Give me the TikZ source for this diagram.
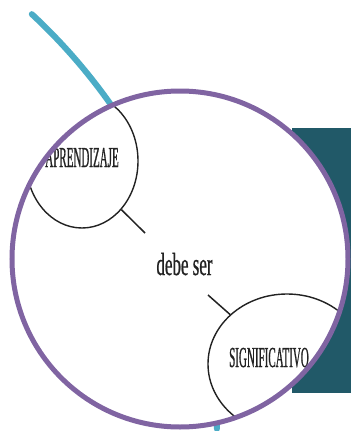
\documentclass[tikz,border=0pt]{standalone}
\usepackage{fontspec}
\usepackage{tikz}
\usetikzlibrary{shapes}
\usetikzlibrary{shapes.geometric}
\newfontfamily\capsfont[FakeStretch=0.38, FakeBold=0.6]{Liberation Serif}
\newfontfamily\wordfont[FakeStretch=0.53, FakeBold=0.6]{Liberation Serif}
\pgfdeclarelayer{bglayer}
\pgfdeclarelayer{edgelayer}
\pgfdeclarelayer{nodelayer}
\pgfsetlayers{bglayer,edgelayer,nodelayer,main}
\definecolor{aqua}{RGB}{75,172,198}
\definecolor{petrol}{RGB}{33,89,104}
\definecolor{lilac}{RGB}{128,100,162}
\definecolor{ink}{RGB}{34,34,34}
\tikzstyle{none}=[inner sep=0pt]
\tikzstyle{bubble}=[shape=ellipse, draw=ink, line width=1.4, inner sep=0pt]
\tikzstyle{link}=[draw=ink, line width=1.5]
\tikzstyle{caps}=[inner sep=0pt, anchor=base, text=ink, font=\capsfont\fontsize{29}{29}\selectfont]
\tikzstyle{word}=[inner sep=0pt, anchor=base, text=ink, font=\wordfont\fontsize{32}{32}\selectfont]

\begin{document}
\begin{tikzpicture}[x=1pt, y=-1pt]
	\useasboundingbox (0, 0) rectangle (351, 431);
	\begin{pgfonlayer}{bglayer}
		\coordinate (0) at (-363, 439);
		\coordinate (1) at (292, 128);
		\coordinate (2) at (351, 393);
		\coordinate (3) at (180, 259);
		\draw [line width=6, color=aqua, line cap=round] (0) ++(-47.1:580) arc (-47.1:-1:580);
		\fill [color=petrol] (1) rectangle (2);
		\fill [color=white] (3) circle (168);
	\end{pgfonlayer}
	\begin{pgfonlayer}{nodelayer}
		\begin{scope}
			\clip (3) circle (168);
			\node [style=bubble, minimum width=112, minimum height=134] (4) at (82, 161) {};
			\node [style=caps] (5) at (82, 167) {APRENDIZAJE};
			\node [style=word] (6) at (184.5, 275) {debe ser};
			\node [style=bubble, minimum width=158, minimum height=140] (7) at (287, 364) {};
			\node [style=caps] (8) at (269, 367) {SIGNIFICATIVO};
			\coordinate (9) at (145, 233);
			\coordinate (10) at (208, 295);
		\end{scope}
	\end{pgfonlayer}
	\begin{pgfonlayer}{edgelayer}
		\draw [style=link] (4.-51) to (9);
		\draw [style=link] (10) to (7.139);
	\end{pgfonlayer}
	\draw [line width=5, color=lilac] (3) circle (168);
\end{tikzpicture}
\end{document}
